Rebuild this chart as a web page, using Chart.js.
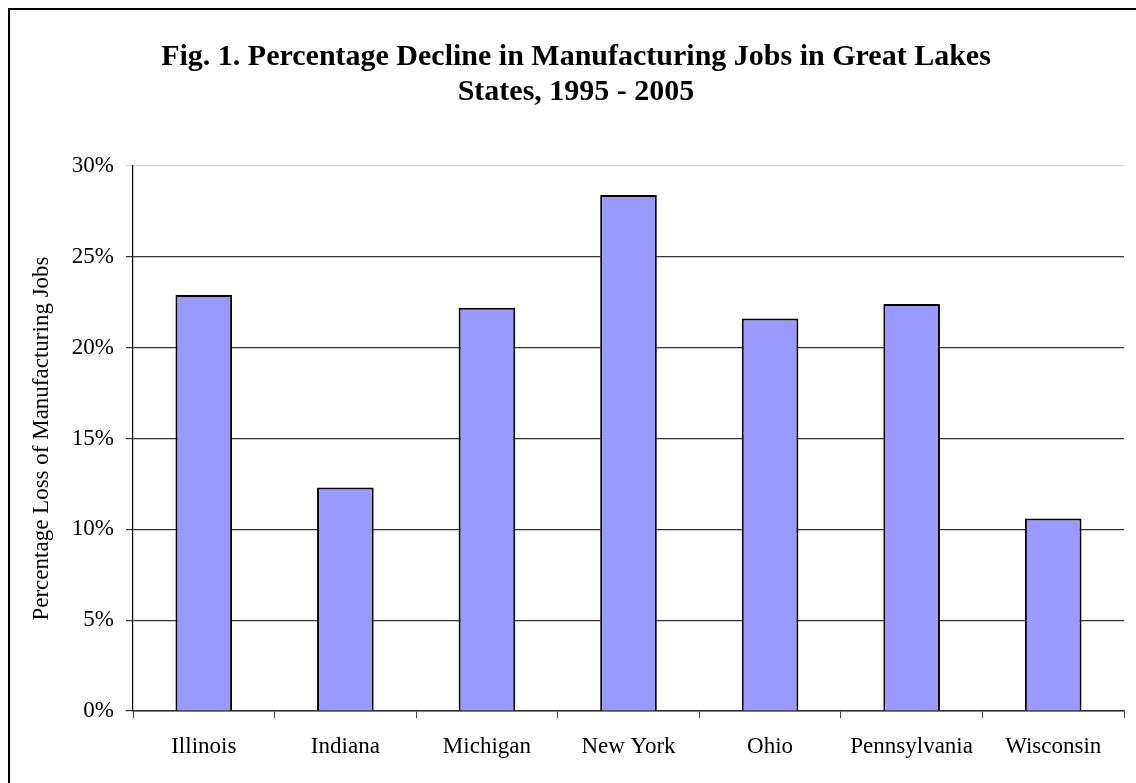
<!DOCTYPE html>
<html>
<head>
<meta charset="utf-8">
<script src="https://cdn.jsdelivr.net/npm/chart.js@4/dist/chart.umd.min.js"></script>
<style>
  html, body { margin: 0; padding: 0; background: #fff; overflow: hidden; }
  #wrap { position: relative; width: 1136px; height: 783px; }
  #frame { position: absolute; left: 8px; top: 8px; width: 1200px; height: 900px; border: 2px solid #000; pointer-events: none; }
</style>
</head>
<body>
<div id="wrap">
  <canvas id="chart" width="1136" height="783"></canvas>
  <div id="frame"></div>
</div>
<script>
// data
const states = ['Illinois', 'Indiana', 'Michigan', 'New York', 'Ohio', 'Pennsylvania', 'Wisconsin'];
const declinePct = [22.9, 12.3, 22.2, 28.4, 21.6, 22.4, 10.6];
const yTicks = [0, 5, 10, 15, 20, 25, 30];

const serif = "'Liberation Serif', 'Times New Roman', Times, serif";

document.addEventListener('DOMContentLoaded', function() {
    const ctx = document.getElementById('chart').getContext('2d');
    new Chart(ctx, {
        type: 'bar',
        data: {
            labels: states,
            datasets: [{
                data: declinePct,
                backgroundColor: '#9999FF',
                borderColor: '#000000',
                borderWidth: 2,
                barPercentage: 0.4,
                categoryPercentage: 1.0
            }]
        },
        options: {
            responsive: false,
            animation: false,
            layout: { padding: { left: 28, right: 12, top: 0, bottom: 0 } },
            plugins: {
                legend: { display: false },
                tooltip: { enabled: false },
                title: {
                    display: true,
                    text: ['Fig. 1. Percentage Decline in Manufacturing Jobs in Great Lakes', 'States, 1995 - 2005'],
                    color: '#000',
                    font: { family: serif, size: 30, weight: 'bold', lineHeight: 1.17 },
                    padding: { top: 39.5, bottom: 56.3 }
                }
            },
            scales: {
                x: {
                    afterFit: function(scale) { scale.height = 72; },
                    grid: { display: true, drawOnChartArea: false, drawTicks: true, tickLength: 7, offset: true, color: '#444' },
                    border: { display: true, color: '#333', width: 1.5 },
                    ticks: { color: '#000', padding: 15, font: { family: serif, size: 23 } }
                },
                y: {
                    min: 0,
                    max: 30,
                    afterFit: function(scale) { scale.width = 105; },
                    afterBuildTicks: function(scale) { scale.ticks = yTicks.map(v => ({ value: v })); },
                    grid: {
                        color: c => (c.tick && c.tick.value === 30) ? '#d4d4d4' : '#333',
                        lineWidth: 1.2,
                        drawTicks: true,
                        tickLength: 7
                    },
                    border: { display: true, color: '#000', width: 1.2 },
                    ticks: {
                        color: '#000',
                        padding: 12,
                        font: { family: serif, size: 23 },
                        callback: v => v + '%'
                    },
                    title: {
                        display: true,
                        text: 'Percentage Loss of Manufacturing Jobs',
                        color: '#000',
                        font: { family: serif, size: 23 },
                        padding: { top: 0, bottom: 2 }
                    }
                }
            }
        }
    });
});
</script>
</body>
</html>
